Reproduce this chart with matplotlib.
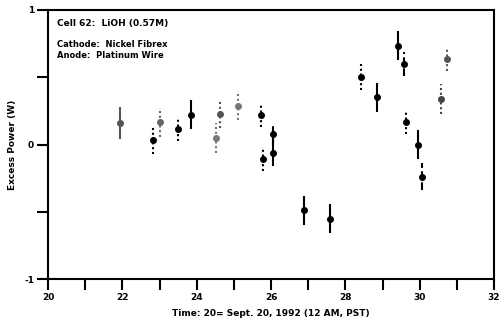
import numpy as np
import matplotlib
matplotlib.use("Agg")
import matplotlib.pyplot as plt

# excess power measurements, cell 62
t = [21.94, 22.83, 23.01, 23.50, 23.84, 24.52, 24.62, 25.12, 25.73, 25.77,
     26.04, 26.04, 26.89, 27.58, 28.41, 28.84, 29.42, 29.58, 29.64, 29.95,
     30.06, 30.56, 30.72]
power = [0.16, 0.03, 0.165, 0.115, 0.22, 0.05, 0.225, 0.29, 0.22, -0.11,
         0.08, -0.06, -0.49, -0.55, 0.505, 0.35, 0.735, 0.60, 0.17, 0.0,
         -0.24, 0.34, 0.635]
err = [0.11, 0.10, 0.11, 0.09, 0.10, 0.11, 0.10, 0.11, 0.09, 0.09,
       0.08, 0.09, 0.10, 0.10, 0.10, 0.10, 0.10, 0.09, 0.09, 0.10,
       0.10, 0.11, 0.09]
dotted = (0, (1, 1.3))
bar_style = ['solid', dotted, dotted, dotted, 'solid', dotted, dotted,
             dotted, dotted, dotted, 'dashed', 'solid', 'solid', 'solid',
             dotted, 'solid', 'solid', 'dashed', dotted, 'solid', 'dashed',
             dotted, dotted]
bar_color = ['#555555', 'black', '#666666', 'black', 'black', '#777777', '#555555',
             '#777777', 'black', 'black', 'black', 'black', 'black', 'black',
             'black', 'black', 'black', 'black', 'black', 'black', 'black',
             '#444444', '#555555']

fig = plt.figure(figsize=(4.99, 3.33), dpi=100)
ax = fig.add_axes([0.0962, 0.162, 0.894, 0.808])

for x, y, e, ls, c in zip(t, power, err, bar_style, bar_color):
    ax.plot([x, x], [y - e, y + e], color=c, linestyle=ls, linewidth=1.5)
    ax.plot(x, y, 'o', color=c, markersize=4)

ax.set_xlim(20, 32)
ax.set_ylim(-1, 1)
ax.set_xticks(np.arange(20, 33, 1))
ax.set_xticklabels([str(v) if v % 2 == 0 else '' for v in range(20, 33)])
ax.set_yticks([-1, -0.5, 0, 0.5, 1])
ax.set_yticklabels(['-1', '', '0', '', '1'])
ax.tick_params(axis='both', direction='out', length=8, width=1.5,
               labelsize=6.5, pad=2)
for lbl in ax.get_xticklabels() + ax.get_yticklabels():
    lbl.set_fontweight('bold')
for s in ax.spines.values():
    s.set_linewidth(1.5)

ax.set_xlabel('Time: 20= Sept. 20, 1992 (12 AM, PST)', fontsize=6.5,
              fontweight='bold', labelpad=5)
ax.set_ylabel('Excess Power (W)', fontsize=6.5, fontweight='bold', labelpad=5)

ax.text(0.02, 0.95, 'Cell 62:  LiOH (0.57M)', transform=ax.transAxes,
        fontsize=6.5, fontweight='bold', va='center')
ax.text(0.02, 0.87, 'Cathode:  Nickel Fibrex', transform=ax.transAxes,
        fontsize=6, fontweight='bold', va='center')
ax.text(0.02, 0.83, 'Anode:  Platinum Wire', transform=ax.transAxes,
        fontsize=6, fontweight='bold', va='center')

fig.savefig('out.png', dpi=100)
